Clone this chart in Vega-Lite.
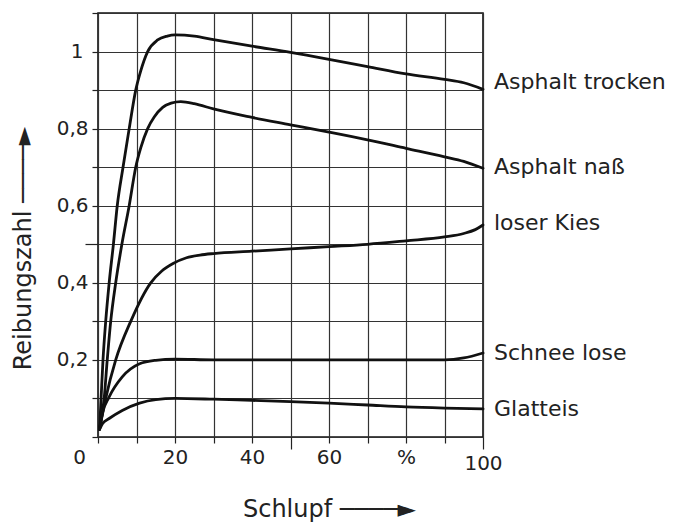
{
  "$schema": "https://vega.github.io/schema/vega-lite/v6.json",
  "width": 385,
  "height": 424,
  "autosize": "none",
  "padding": {"left": 98, "top": 13, "right": 198, "bottom": 86},
  "background": "white",
  "config": {
    "view": {"stroke": "#111", "strokeWidth": 1.6},
    "font": "DejaVu Sans"
  },
  "datasets": {
    "curves": [
      {"surface": "Asphalt trocken", "s": 0.4, "mu": 0.02},
      {"surface": "Asphalt trocken", "s": 0.8, "mu": 0.1},
      {"surface": "Asphalt trocken", "s": 1.3, "mu": 0.2},
      {"surface": "Asphalt trocken", "s": 2.0, "mu": 0.3},
      {"surface": "Asphalt trocken", "s": 2.9, "mu": 0.4},
      {"surface": "Asphalt trocken", "s": 4.0, "mu": 0.5},
      {"surface": "Asphalt trocken", "s": 5.0, "mu": 0.6},
      {"surface": "Asphalt trocken", "s": 6.5, "mu": 0.7},
      {"surface": "Asphalt trocken", "s": 8.1, "mu": 0.8},
      {"surface": "Asphalt trocken", "s": 9.8, "mu": 0.9},
      {"surface": "Asphalt trocken", "s": 11.1, "mu": 0.95},
      {"surface": "Asphalt trocken", "s": 12.9, "mu": 1.0},
      {"surface": "Asphalt trocken", "s": 15.5, "mu": 1.03},
      {"surface": "Asphalt trocken", "s": 18, "mu": 1.04},
      {"surface": "Asphalt trocken", "s": 20, "mu": 1.043},
      {"surface": "Asphalt trocken", "s": 25, "mu": 1.04},
      {"surface": "Asphalt trocken", "s": 30, "mu": 1.031},
      {"surface": "Asphalt trocken", "s": 40, "mu": 1.014},
      {"surface": "Asphalt trocken", "s": 50, "mu": 0.998},
      {"surface": "Asphalt trocken", "s": 60, "mu": 0.98},
      {"surface": "Asphalt trocken", "s": 70, "mu": 0.961},
      {"surface": "Asphalt trocken", "s": 80, "mu": 0.942},
      {"surface": "Asphalt trocken", "s": 90, "mu": 0.928},
      {"surface": "Asphalt trocken", "s": 95, "mu": 0.919},
      {"surface": "Asphalt trocken", "s": 100, "mu": 0.902},
      {"surface": "Asphalt naß", "s": 0.4, "mu": 0.02},
      {"surface": "Asphalt naß", "s": 1.6, "mu": 0.1},
      {"surface": "Asphalt naß", "s": 2.4, "mu": 0.2},
      {"surface": "Asphalt naß", "s": 3.3, "mu": 0.3},
      {"surface": "Asphalt naß", "s": 4.6, "mu": 0.4},
      {"surface": "Asphalt naß", "s": 6.2, "mu": 0.5},
      {"surface": "Asphalt naß", "s": 8.1, "mu": 0.6},
      {"surface": "Asphalt naß", "s": 9.8, "mu": 0.7},
      {"surface": "Asphalt naß", "s": 11.1, "mu": 0.75},
      {"surface": "Asphalt naß", "s": 12.9, "mu": 0.8},
      {"surface": "Asphalt naß", "s": 14.6, "mu": 0.83},
      {"surface": "Asphalt naß", "s": 16.8, "mu": 0.855},
      {"surface": "Asphalt naß", "s": 19, "mu": 0.866},
      {"surface": "Asphalt naß", "s": 21.5, "mu": 0.87},
      {"surface": "Asphalt naß", "s": 25, "mu": 0.865},
      {"surface": "Asphalt naß", "s": 30, "mu": 0.851},
      {"surface": "Asphalt naß", "s": 40, "mu": 0.829},
      {"surface": "Asphalt naß", "s": 50, "mu": 0.81},
      {"surface": "Asphalt naß", "s": 60, "mu": 0.791},
      {"surface": "Asphalt naß", "s": 70, "mu": 0.771},
      {"surface": "Asphalt naß", "s": 80, "mu": 0.749},
      {"surface": "Asphalt naß", "s": 90, "mu": 0.727},
      {"surface": "Asphalt naß", "s": 95, "mu": 0.715},
      {"surface": "Asphalt naß", "s": 100, "mu": 0.697},
      {"surface": "loser Kies", "s": 0.4, "mu": 0.02},
      {"surface": "loser Kies", "s": 2.0, "mu": 0.1},
      {"surface": "loser Kies", "s": 4.6, "mu": 0.2},
      {"surface": "loser Kies", "s": 8.5, "mu": 0.3},
      {"surface": "loser Kies", "s": 13.7, "mu": 0.4},
      {"surface": "loser Kies", "s": 16.5, "mu": 0.43},
      {"surface": "loser Kies", "s": 19.5, "mu": 0.45},
      {"surface": "loser Kies", "s": 23, "mu": 0.465},
      {"surface": "loser Kies", "s": 26.5, "mu": 0.472},
      {"surface": "loser Kies", "s": 30, "mu": 0.476},
      {"surface": "loser Kies", "s": 40, "mu": 0.482},
      {"surface": "loser Kies", "s": 50, "mu": 0.488},
      {"surface": "loser Kies", "s": 60, "mu": 0.494},
      {"surface": "loser Kies", "s": 70, "mu": 0.5},
      {"surface": "loser Kies", "s": 80, "mu": 0.509},
      {"surface": "loser Kies", "s": 90, "mu": 0.519},
      {"surface": "loser Kies", "s": 95, "mu": 0.528},
      {"surface": "loser Kies", "s": 98, "mu": 0.538},
      {"surface": "loser Kies", "s": 100, "mu": 0.55},
      {"surface": "Schnee lose", "s": 0.4, "mu": 0.02},
      {"surface": "Schnee lose", "s": 1.1, "mu": 0.06},
      {"surface": "Schnee lose", "s": 2.9, "mu": 0.104},
      {"surface": "Schnee lose", "s": 6.3, "mu": 0.156},
      {"surface": "Schnee lose", "s": 10.8, "mu": 0.19},
      {"surface": "Schnee lose", "s": 15, "mu": 0.199},
      {"surface": "Schnee lose", "s": 20, "mu": 0.202},
      {"surface": "Schnee lose", "s": 30, "mu": 0.2},
      {"surface": "Schnee lose", "s": 50, "mu": 0.2},
      {"surface": "Schnee lose", "s": 70, "mu": 0.2},
      {"surface": "Schnee lose", "s": 90, "mu": 0.2},
      {"surface": "Schnee lose", "s": 95, "mu": 0.205},
      {"surface": "Schnee lose", "s": 100, "mu": 0.218},
      {"surface": "Glatteis", "s": 0.4, "mu": 0.02},
      {"surface": "Glatteis", "s": 1.2, "mu": 0.035},
      {"surface": "Glatteis", "s": 2.9, "mu": 0.048},
      {"surface": "Glatteis", "s": 6.3, "mu": 0.069},
      {"surface": "Glatteis", "s": 10.8, "mu": 0.088},
      {"surface": "Glatteis", "s": 15, "mu": 0.097},
      {"surface": "Glatteis", "s": 20, "mu": 0.1},
      {"surface": "Glatteis", "s": 30, "mu": 0.098},
      {"surface": "Glatteis", "s": 40, "mu": 0.095},
      {"surface": "Glatteis", "s": 50, "mu": 0.092},
      {"surface": "Glatteis", "s": 60, "mu": 0.088},
      {"surface": "Glatteis", "s": 70, "mu": 0.083},
      {"surface": "Glatteis", "s": 80, "mu": 0.078},
      {"surface": "Glatteis", "s": 90, "mu": 0.075},
      {"surface": "Glatteis", "s": 100, "mu": 0.073}
    ],
    "labels": [
      {"label": "Asphalt trocken", "s": 100, "mu": 0.902},
      {"label": "Asphalt naß", "s": 100, "mu": 0.682},
      {"label": "loser Kies", "s": 100, "mu": 0.537},
      {"label": "Schnee lose", "s": 100, "mu": 0.199},
      {"label": "Glatteis", "s": 100, "mu": 0.055}
    ]
  },
  "encoding": {
    "x": {
      "field": "s",
      "type": "quantitative",
      "scale": {"domain": [0, 100], "nice": false, "zero": false},
      "axis": {
        "values": [0, 10, 20, 30, 40, 50, 60, 70, 80, 90, 100],
        "domain": false,
        "grid": true,
        "gridColor": "#333",
        "gridWidth": 1.2,
        "gridOpacity": 1,
        "tickColor": "#222",
        "tickWidth": 1.2,
        "tickSize": {"condition": {"test": "datum.value == 50 || datum.value == 100", "value": 12}, "value": 6},
        "labelExpr": "datum.value == 80 ? '%' : (datum.value % 20 == 0 ? datum.label : '')",
        "labelFont": "DejaVu Sans",
        "labelFontSize": 20,
        "labelColor": "#222",
        "labelPadding": 4,
        "labelOffset": {"condition": {"test": "datum.value == 0", "value": -19}, "value": 0},
        "labelFlush": false,
        "labelOverlap": false,
        "labelBound": false,
        "title": "Schlupf ────►",
        "titleFont": "DejaVu Sans",
        "titleFontSize": 24,
        "titleFontWeight": "normal",
        "titleColor": "#222",
        "titleX": 231,
        "titleY": 79,
        "titleAlign": "center",
        "titleBaseline": "alphabetic"
      }
    },
    "y": {
      "field": "mu",
      "type": "quantitative",
      "scale": {"domain": [0, 1.1], "nice": false, "zero": false},
      "axis": {
        "values": [0, 0.1, 0.2, 0.3, 0.4, 0.5, 0.6, 0.7, 0.8, 0.9, 1, 1.1],
        "domain": false,
        "grid": true,
        "gridColor": "#333",
        "gridWidth": 1.2,
        "gridOpacity": 1,
        "tickColor": "#222",
        "tickWidth": 1.2,
        "tickSize": {"condition": {"test": "datum.value == 0.5", "value": 13}, "value": 6},
        "labelExpr": "datum.value == 1 ? '1' : ((datum.value == 0.2 || datum.value == 0.4 || datum.value == 0.6 || datum.value == 0.8) ? replace(datum.label, '.', ',') : '')",
        "labelFont": "DejaVu Sans",
        "labelFontSize": 20,
        "labelColor": "#222",
        "labelPadding": {"condition": {"test": "datum.value == 1", "value": 9}, "value": 4},
        "labelOverlap": false,
        "labelBound": false,
        "title": "Reibungszahl ────►",
        "titleFont": "DejaVu Sans",
        "titleFontSize": 24,
        "titleFontWeight": "normal",
        "titleColor": "#222",
        "titleX": -75,
        "titleY": 235,
        "titleAngle": -90,
        "titleAlign": "center",
        "titleBaseline": "middle"
      }
    }
  },
  "layer": [
    {
      "data": {"name": "curves"},
      "mark": {"type": "line", "interpolate": "monotone", "color": "#111", "strokeWidth": 2.8, "strokeCap": "round"},
      "encoding": {"detail": {"field": "surface", "type": "nominal"}}
    },
    {
      "data": {"name": "labels"},
      "mark": {"type": "text", "align": "left", "baseline": "alphabetic", "dx": 11, "font": "DejaVu Sans", "fontSize": 22, "color": "#222"},
      "encoding": {"text": {"field": "label", "type": "nominal"}}
    }
  ]
}
